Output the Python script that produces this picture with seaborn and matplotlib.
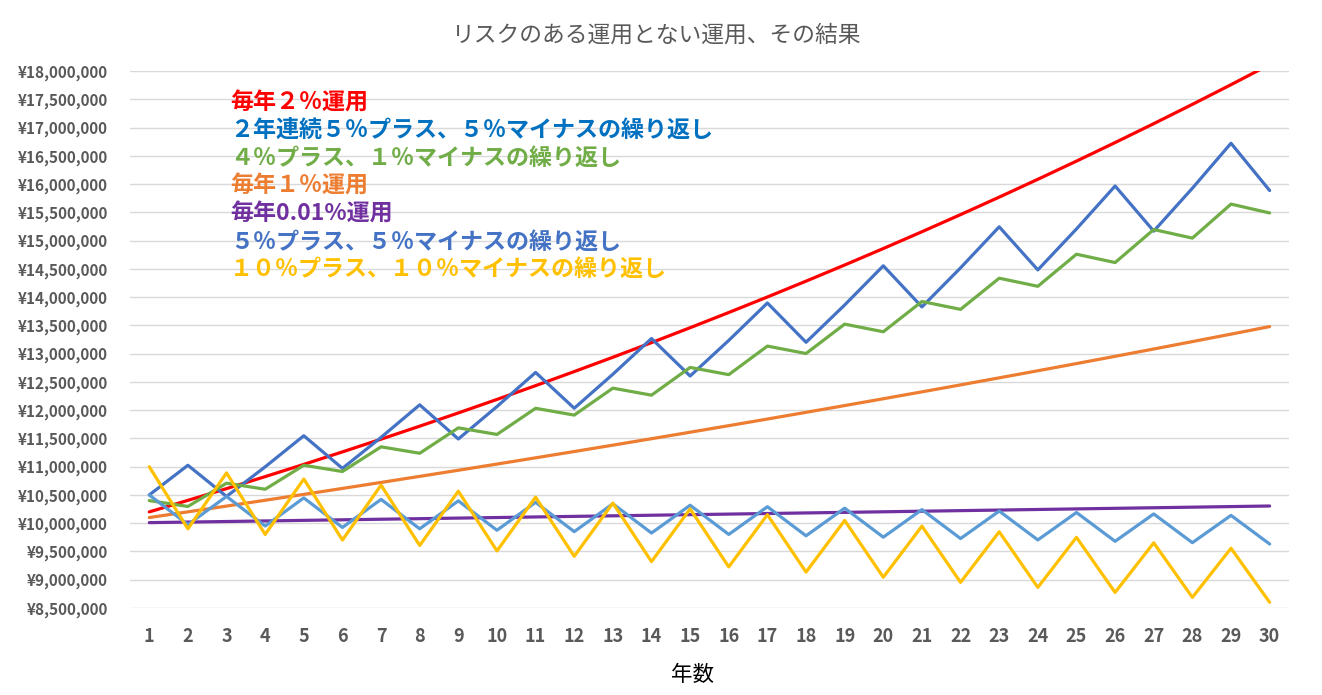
import matplotlib
matplotlib.use("Agg")
import matplotlib.pyplot as plt
import matplotlib.ticker as mticker
import numpy as np
import pandas as pd
import seaborn as sns

# values (yen, start = 10,000,000)
years = list(range(1, 31))

fixed_2 = [10200000, 10404000, 10612080, 10824322, 11040808, 11261624, 11486857, 11716594, 11950926, 12189944,
           12433743, 12682418, 12936066, 13194788, 13458683, 13727857, 14002414, 14282462, 14568112, 14859474,
           15156663, 15459797, 15768993, 16084373, 16406060, 16734181, 17068865, 17410242, 17758447, 18113616]
two_up_one_down = [10500000, 11025000, 10473750, 10997438, 11547309, 10969944, 11518441, 12094363, 11489645, 12064127,
                   12667334, 12033967, 12635665, 13267449, 12604076, 13234280, 13895994, 13201194, 13861254, 14554317,
                   13826601, 14517931, 15243828, 14481636, 15205718, 15966004, 15167704, 15926089, 16722393, 15886274]
up4_down1 = [10400000, 10296000, 10707840, 10600762, 11024792, 10914544, 11351126, 11237614, 11687119, 11570248,
             12033058, 11912727, 12389236, 12265344, 12755958, 12628398, 13133534, 13002199, 13522287, 13387064,
             13922547, 13783321, 14334654, 14191308, 14758960, 14611370, 15195825, 15043867, 15645622, 15489166]
fixed_1 = [10100000, 10201000, 10303010, 10406040, 10510101, 10615202, 10721354, 10828567, 10936853, 11046221,
           11156684, 11268250, 11380933, 11494742, 11609690, 11725786, 11843044, 11961475, 12081090, 12201900,
           12323919, 12447159, 12571630, 12697346, 12824320, 12952563, 13082089, 13212910, 13345039, 13478489]
fixed_001 = [10010000, 10020010, 10030030, 10040060, 10050100, 10060150, 10070211, 10080281, 10090361, 10100451,
             10110552, 10120662, 10130783, 10140914, 10151055, 10161206, 10171367, 10181538, 10191720, 10201912,
             10212114, 10222326, 10232548, 10242781, 10253024, 10263277, 10273540, 10283814, 10294098, 10304392]
pm5 = [10500000, 9975000, 10473750, 9950063, 10447566, 9925188, 10421447, 9900375, 10395394, 9875624,
       10369405, 9850935, 10343482, 9826307, 10317623, 9801742, 10291829, 9777237, 10266099, 9752794,
       10240434, 9728412, 10214833, 9704091, 10189296, 9679831, 10163822, 9655631, 10138413, 9631492]
pm10 = [11000000, 9900000, 10890000, 9801000, 10781100, 9702990, 10673289, 9605960, 10566556, 9509900,
        10460891, 9414802, 10356282, 9320654, 10252719, 9227447, 10150192, 9135172, 10048690, 9043821,
        9948203, 8953383, 9848721, 8863849, 9750234, 8775211, 9652732, 8687459, 9556205, 8600584]

series_names = ["毎年２％運用",
                "２年連続５％プラス、５％マイナスの繰り返し",
                "４％プラス、１％マイナスの繰り返し",
                "毎年１％運用",
                "毎年0.01%運用",
                "５％プラス、５％マイナスの繰り返し",
                "１０％プラス、１０％マイナスの繰り返し"]
series_values = [fixed_2, two_up_one_down, up4_down1, fixed_1, fixed_001, pm5, pm10]
line_colors = ["#FF0000", "#4472C4", "#70AD47", "#ED7D31", "#7030A0", "#5B9BD5", "#FFC000"]
text_colors = ["#FF0000", "#0070C0", "#70AD47", "#ED7D31", "#7030A0", "#4472C4", "#FFC000"]

frames = []
for name, vals in zip(series_names, series_values):
    frames.append(pd.DataFrame({"年": years, "金額": vals, "系列": name}))
df = pd.concat(frames, ignore_index=True)

sns.set_theme(style="white")
plt.rcParams['font.family'] = ['Noto Sans CJK JP', 'DejaVu Sans']

fig = plt.figure(figsize=(13.22, 6.95), dpi=100)
ax = fig.add_axes([0.0983, 0.1252, 0.8767, 0.7726])

sns.lineplot(data=df, x="年", y="金額", hue="系列", hue_order=series_names,
             palette=dict(zip(series_names, line_colors)), linewidth=2.3,
             legend=False, ax=ax)

ax.set_xlim(0.5, 30.5)
ax.set_ylim(8500000, 18000000)
ax.set_xticks(years)
ax.set_yticks(np.arange(8500000, 18000001, 500000))
ax.yaxis.set_major_formatter(mticker.FuncFormatter(lambda v, p: f"¥{v:,.0f}"))
ax.grid(axis="y", color="#D9D9D9", linewidth=1)
ax.set_axisbelow(True)
for s in ax.spines.values():
    s.set_visible(False)
ax.tick_params(axis="y", length=0, pad=16, labelsize=11, labelcolor="#595959")
ax.tick_params(axis="x", length=0, pad=14, labelsize=13, labelcolor="#595959")
for lab in ax.get_xticklabels() + ax.get_yticklabels():
    lab.set_fontweight("bold")

ax.set_xlabel("")
ax.set_ylabel("")
# axis title and chart title placed like the original
fig.text(693 / 1322, 1 - 675 / 695, "年数", ha="center", va="center", fontsize=15.5, color="#000000")
fig.text(657 / 1322, 1 - 35 / 695, "リスクのある運用とない運用、その結果", ha="center", va="center",
         fontsize=16.4, color="#595959")

for i, (name, col) in enumerate(zip(series_names, text_colors)):
    fig.text(0.174, 0.852 - i * 0.0400, name, ha="left", va="center",
             fontsize=16.6, fontweight="bold", color=col)

fig.savefig("out.png", dpi=100)
